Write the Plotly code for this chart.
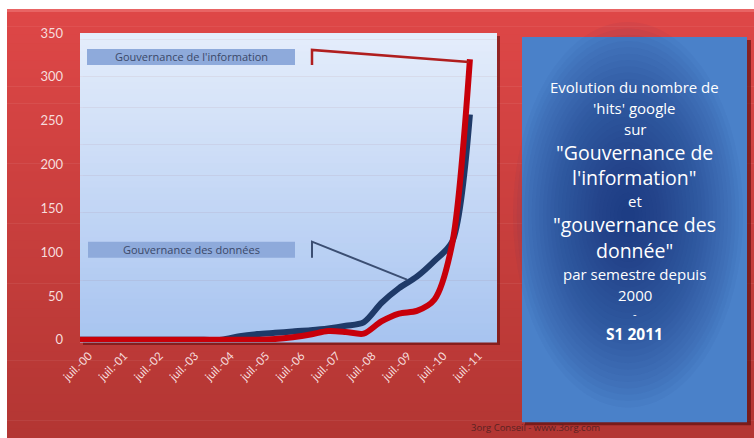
import plotly.graph_objects as go

# ---------------- data ----------------
semesters = ["2000-04-01", "2000-10-01", "2001-04-01", "2001-10-01", "2002-04-01",
             "2002-10-01", "2003-04-01", "2003-10-01", "2004-04-01", "2004-10-01",
             "2005-04-01", "2005-10-01", "2006-04-01", "2006-10-01", "2007-04-01",
             "2007-10-01", "2008-04-01", "2008-10-01", "2009-04-01", "2009-10-01",
             "2010-04-01", "2010-10-01", "2011-04-01"]
gouv_donnees = [0, 0, 0, 0, 0, 0, 0, 0, 0, 4, 6.5, 8, 9.5, 11, 13, 16, 20, 42, 59, 72, 90, 112, 257]
gouv_info = [0, 0, 0, 0, 0, 0, 0, 0, 0, 0, 0, 1, 3, 6, 10, 9, 7, 21, 30, 33, 46, 110, 320]
tick_dates = ["2000-07-01", "2001-07-01", "2002-07-01", "2003-07-01", "2004-07-01",
              "2005-07-01", "2006-07-01", "2007-07-01", "2008-07-01", "2009-07-01",
              "2010-07-01", "2011-07-01"]
tick_labels = ["juil.-00", "juil.-01", "juil.-02", "juil.-03", "juil.-04", "juil.-05",
               "juil.-06", "juil.-07", "juil.-08", "juil.-09", "juil.-10", "juil.-11"]
y_ticks = [0, 50, 100, 150, 200, 250, 300, 350]

# ---------------- geometry helpers ----------------
W, H = 754, 438
ML, MR, MT, MB = 80, 257, 33, 95.5
PW = W - ML - MR
PH = H - MT - MB


def px(x):
    return (x - ML) / PW


def py(y):
    return (H - MB - y) / PH


def hex2rgb(h):
    h = h.lstrip("#")
    return tuple(int(h[i:i + 2], 16) for i in (0, 2, 4))


def mix(c1, c2, t):
    a, b = hex2rgb(c1), hex2rgb(c2)
    return "rgb(%d,%d,%d)" % tuple(round(a[i] + (b[i] - a[i]) * t) for i in range(3))


shapes = []


def rect(x0, y0, x1, y1, color, layer="below", line=None):
    shapes.append(dict(type="rect", xref="paper", yref="paper",
                       x0=px(x0), x1=px(x1), y0=py(y1), y1=py(y0),
                       fillcolor=color, line=line or dict(width=0), layer=layer))


def vgrad(x0, y0, x1, y1, c_top, c_bot, n=40):
    step = (y1 - y0) / n
    for i in range(n):
        t = i / (n - 1)
        rect(x0, y0 + i * step, x1, y0 + (i + 1) * step + 0.6, mix(c_top, c_bot, t))


# red background with gradient
vgrad(7, 9, W, H, "#de4747", "#b33633", n=50)
rect(7, 9, W, 12, "#e86464")

# plot area shadow + gradient background
rect(83, 36, 500, 345.5, "rgba(90,10,10,0.55)")
vgrad(80, 33, 497, 342.5, "#e4edfb", "#a8c4f0", n=50)

# right info panel: shadow, base, radial-ish darkening
rect(525, 40, 751, 426, "rgba(80,10,10,0.6)")
rect(522, 37, 747, 423, "#4a81c9")
cx, cy = 628, 215
N = 30
for i in range(N):
    f = 1 - i / N
    rx, ry = 112 * f + 3, 190 * f + 3
    shapes.append(dict(type="circle", xref="paper", yref="paper",
                       x0=px(cx - rx), x1=px(cx + rx), y0=py(cy + ry), y1=py(cy - ry),
                       fillcolor="rgba(20,50,110,0.042)", line=dict(width=0), layer="below"))

# callout boxes
rect(87, 49, 295, 65, "#8eaadb")
rect(88, 242, 295, 258, "#8eaadb")

# callout leader lines
shapes.append(dict(type="path", xref="paper", yref="paper", layer="above",
                   path="M %f,%f L %f,%f L %f,%f" % (px(312), py(65), px(312), py(50), px(469), py(62)),
                   line=dict(color="#b01e1e", width=2.5)))
shapes.append(dict(type="path", xref="paper", yref="paper", layer="above",
                   path="M %f,%f L %f,%f L %f,%f" % (px(312), py(258), px(312), py(242), px(407), py(280)),
                   line=dict(color="#3b4e72", width=2)))

# ---------------- figure ----------------
fig = go.Figure()
fig.add_trace(go.Scatter(x=semesters, y=gouv_donnees, mode="lines",
                         line=dict(color="#1f3a68", width=6, shape="spline", smoothing=0.8),
                         name="Gouvernance des données", showlegend=False))
fig.add_trace(go.Scatter(x=semesters, y=gouv_info, mode="lines",
                         line=dict(color="#c8000a", width=6, shape="spline", smoothing=0.8),
                         name="Gouvernance de l'information", showlegend=False))

annotations = []
FONT = "'Open Sans', Lato, sans-serif"
TICKFONT = "Lato, 'Open Sans', sans-serif"


def txt(x, y, s, size, color="#ffffff"):
    annotations.append(dict(x=px(x), y=py(y), xref="paper", yref="paper", text=s,
                            showarrow=False, xanchor="center", yanchor="middle", align="center",
                            font=dict(family=FONT, size=size, color=color)))


txt(191, 57, "Gouvernance de l'information", 11, "#3a4868")
txt(191, 250, "Gouvernance des données", 11, "#3a4868")

SMALL, BIG = 15, 19.5
panel_lines = [
    (87, "Evolution du nombre de", SMALL),
    (108, "'hits' google", SMALL),
    (129, "sur", SMALL),
    (152.5, "\"Gouvernance de", BIG),
    (178, "l'information\"", BIG),
    (201.5, "et", SMALL),
    (225, "\"gouvernance des", BIG),
    (250.5, "donnée\"", BIG),
    (274, "par semestre depuis", SMALL),
    (295, "2000", SMALL),
    (314, "-", 11),
    (334, "<b>S1 2011</b>", 15.5),
]
for yy, s, sz in panel_lines:
    txt(634.5, yy, s, sz, "#ffffff")

txt(535, 428, "3org Conseil - www.3org.com", 9.5, "#5a2222")

fig.update_layout(
    width=W, height=H,
    margin=dict(l=ML, r=MR, t=MT, b=MB, pad=0),
    paper_bgcolor="#ffffff",
    plot_bgcolor="rgba(0,0,0,0)",
    shapes=shapes,
    annotations=annotations,
    xaxis=dict(type="date", range=["2000-04-01", "2012-01-05"], tickvals=tick_dates,
               ticktext=tick_labels, tickangle=-45, showgrid=False, zeroline=False,
               showline=False, ticks="", ticklabelstandoff=4,
               tickfont=dict(family=TICKFONT, size=11.5, color="#f6dcdc")),
    yaxis=dict(range=[-2.5, 350], tickvals=y_ticks, showgrid=False, zeroline=False,
               showline=False, ticks="", ticklabelstandoff=16,
               tickfont=dict(family=TICKFONT, size=13, color="#f6dcdc")),
)

fig.write_html("out.html")
